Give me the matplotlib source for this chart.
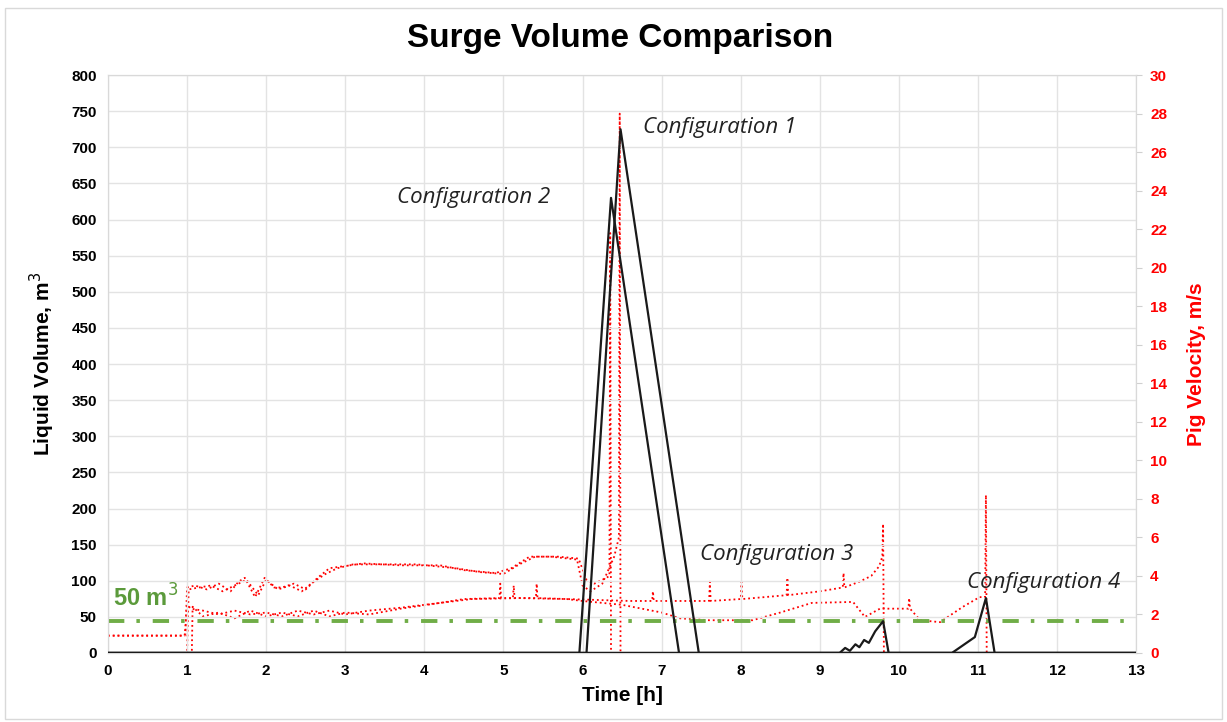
import matplotlib.pyplot as plt
import matplotlib.patches as mpatches
import numpy as np

# liquid volume (m3) for each configuration, black lines
vol1_t = [0, 6.05, 6.48, 7.47, 13]
vol1_v = [0, 0, 725, 0, 0]
vol2_t = [0, 5.96, 6.36, 7.22, 13]
vol2_v = [0, 0, 630, 0, 0]
vol3_t = [0, 9.25, 9.32, 9.38, 9.45, 9.5, 9.56, 9.62, 9.7, 9.8, 9.87, 13]
vol3_v = [0, 0, 7, 3, 12, 8, 18, 14, 30, 44, 0, 0]
vol4_t = [0, 10.67, 10.96, 11.1, 11.21, 13]
vol4_v = [0, 0, 22, 76, 0, 0]

# pig velocity (m/s) for each configuration, red dotted lines
vel1 = np.array([
    (0, 0.9), (0.95, 0.9), (0.98, 1.0), (1.0, 3.4), (1.1, 3.5), (1.25, 3.3),
    (1.4, 3.6), (1.55, 3.2), (1.65, 3.7), (1.73, 3.9), (1.86, 2.9), (1.98, 3.9),
    (2.1, 3.4), (2.2, 3.4), (2.35, 3.6), (2.5, 3.3), (2.65, 3.9), (2.8, 4.4),
    (2.97, 4.5), (3.23, 4.65), (3.7, 4.55), (4.2, 4.55), (4.5, 4.3), (4.9, 4.15),
    (5.1, 4.4), (5.33, 5.0), (5.6, 5.0), (5.93, 4.85), (6.0, 3.5), (6.1, 3.2),
    (6.25, 3.6), (6.4, 5.0), (6.46, 6.0), (6.47, 28.0), (6.48, 0), (13, 0)])
vel2 = np.array([
    (0, 0), (1.0, 0), (1.02, 3.3), (1.15, 3.4), (1.3, 3.5), (1.45, 3.2),
    (1.6, 3.5), (1.75, 3.8), (1.9, 3.0), (2.0, 3.8), (2.15, 3.3), (2.3, 3.5),
    (2.45, 3.2), (2.6, 3.7), (2.75, 4.1), (2.9, 4.4), (3.1, 4.6), (3.4, 4.6),
    (3.9, 4.6), (4.4, 4.4), (4.7, 4.2), (5.0, 4.1), (5.2, 4.6), (5.4, 5.0),
    (5.7, 5.0), (5.95, 4.9), (6.05, 3.8), (6.15, 3.6), (6.3, 3.9), (6.34, 4.0),
    (6.35, 21.8), (6.36, 0), (13, 0)])
vel3 = np.array([
    (0, 0.9), (0.97, 0.9), (1.0, 2.5), (1.05, 2.3), (1.2, 2.2), (1.4, 2.0),
    (1.6, 2.2), (1.8, 2.0), (2.0, 2.1), (2.2, 1.9), (2.4, 2.2), (2.6, 2.0),
    (2.8, 2.2), (3.0, 2.0), (3.3, 2.2), (3.7, 2.35), (4.2, 2.6), (4.5, 2.8),
    (4.95, 2.85), (4.96, 3.6), (4.97, 2.85), (5.12, 2.85), (5.13, 3.5),
    (5.14, 2.85), (5.41, 2.85), (5.42, 3.6), (5.43, 2.85), (5.8, 2.8),
    (6.2, 2.75), (6.6, 2.7), (6.88, 2.7), (6.89, 3.2), (6.9, 2.7), (7.2, 2.7),
    (7.6, 2.7), (7.61, 3.7), (7.62, 2.7), (8.0, 2.8), (8.01, 3.7), (8.02, 2.8),
    (8.3, 2.9), (8.58, 3.0), (8.59, 3.9), (8.6, 3.0), (9.0, 3.2), (9.29, 3.4),
    (9.3, 4.15), (9.31, 3.4), (9.5, 3.7), (9.65, 4.0), (9.75, 4.5), (9.79, 5.0),
    (9.8, 6.7), (9.81, 0), (13, 0)])
vel4 = np.array([
    (0, 0), (1.06, 0), (1.07, 2.4), (1.2, 1.9), (1.4, 2.1), (1.6, 1.8),
    (1.8, 2.2), (2.0, 1.9), (2.2, 2.1), (2.4, 1.9), (2.6, 2.2), (2.8, 1.9),
    (3.0, 2.1), (3.3, 2.0), (3.7, 2.3), (4.2, 2.6), (4.6, 2.8), (5.2, 2.85),
    (5.8, 2.8), (6.0, 2.7), (6.5, 2.5), (7.0, 2.1), (7.23, 1.8), (7.6, 1.7),
    (8.15, 1.7), (8.5, 2.1), (8.9, 2.6), (9.42, 2.65), (9.57, 1.87),
    (9.76, 2.3), (10.12, 2.3), (10.13, 2.85), (10.14, 2.3), (10.27, 1.7),
    (10.52, 1.6), (10.81, 2.4), (11.02, 2.9), (11.09, 2.9), (11.1, 8.2),
    (11.11, 0), (13, 0)])

limit_volume = 44.5  # the green "50 m3" reference line

labels = ['Configuration 1', 'Configuration 2', 'Configuration 3', 'Configuration 4']
label_pos = [(6.76, 727), (3.65, 630), (7.48, 136), (10.86, 97)]

font = ['Liberation Sans Narrow', 'Liberation Sans']

fig = plt.figure(figsize=(12.27, 7.22), dpi=100)
ax = fig.add_axes([0.088, 0.0956, 0.838, 0.8004])
ax2 = ax.twinx()

# velocities on the right axis, behind the volumes
for vel in (vel1, vel2, vel3, vel4):
    ax2.plot(vel[:, 0], vel[:, 1], color='red', linestyle=':', lw=1.3)

for t, v in [(vol1_t, vol1_v), (vol2_t, vol2_v), (vol3_t, vol3_v), (vol4_t, vol4_v)]:
    ax.plot(t, v, color='#1a1a1a', lw=1.6, zorder=3)

ax.axhline(limit_volume, color='#70ad47', lw=2.8, dashes=(4.2, 3.1, 0.9, 3.3), zorder=2)
ax.text(0.06, limit_volume + 13, '50 m$^3$', color='#5b9a3b', fontsize=17,
        fontweight='bold', family=font, va='bottom')

for text, (x, y) in zip(labels, label_pos):
    ax.text(x, y, text, fontsize=16, style='italic', family='Open Sans',
            color='#222222', va='center')

ax.set_xlim(0, 13)
ax.set_ylim(0, 800)
ax2.set_ylim(0, 30)
ax.set_xticks(range(0, 14))
ax.set_yticks(range(0, 801, 50))
ax2.set_yticks(range(0, 31, 2))

ax.grid(True, color='#e3e3e3', lw=1)
ax.set_axisbelow(True)
ax.set_zorder(ax2.get_zorder() + 1)
ax.patch.set_visible(False)

for a in (ax, ax2):
    for s in a.spines.values():
        s.set_color('#d9d9d9')
ax.tick_params(axis='both', length=0, pad=8)
ax2.tick_params(axis='y', colors='#d0d0d0', labelcolor='red', length=4, pad=6)

for lab in ax.get_xticklabels() + ax.get_yticklabels() + ax2.get_yticklabels():
    lab.set_fontweight('bold')
    lab.set_family(font)
    lab.set_fontsize(11)

ax.set_xlabel('Time [h]', fontsize=15, fontweight='bold', family=font, labelpad=6)
ax.set_ylabel('Liquid Volume, m$^3$', fontsize=15, fontweight='bold', family=font,
              labelpad=10)
ax2.set_ylabel('Pig Velocity, m/s', fontsize=15, fontweight='bold', family=font,
               color='red', labelpad=14)
fig.suptitle('Surge Volume Comparison', fontsize=24, fontweight='bold', family=font,
             x=0.505, y=0.968)

# thin frame round the whole picture
fig.patches.append(mpatches.Rectangle((0.004, 0.004), 0.992, 0.985, transform=fig.transFigure,
                                      fill=False, edgecolor='#d9d9d9', lw=1))

fig.savefig('out.png', dpi=100)
